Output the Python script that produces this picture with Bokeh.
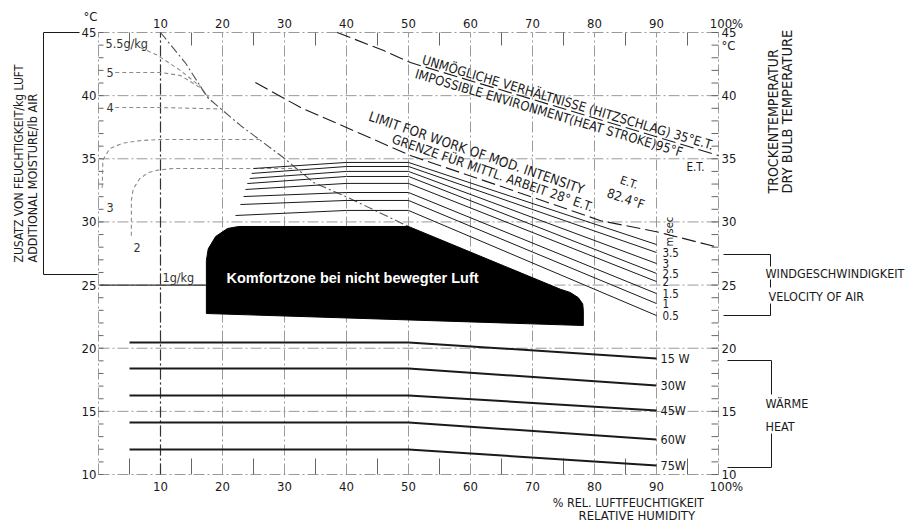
import math
from bokeh.plotting import figure
from bokeh.models import Range1d
from bokeh.embed import file_html
from bokeh.resources import INLINE
from bokeh.core.properties import value

# ---------------- data ----------------
rh_ticks = [10, 20, 30, 40, 50, 60, 70, 80, 90, 100]
rh_tick_labels = ["10", "20", "30", "40", "50", "60", "70", "80", "90", "100%"]
rh_minor = [5, 15, 25, 35, 45, 55, 65, 75, 85, 95]
rh_lines = [0, 10, 20, 30, 40, 50, 60, 70, 80, 90, 100]
temp_ticks = [10, 15, 20, 25, 30, 35, 40, 45]
temp_tick_labels = ["10", "15", "20", "25", "30", "35", "40", "45"]
temp_minor = list(range(10, 46))

# comfort zone outline (rel. humidity %, temperature degC)
comfort_rh = [17.4, 17.4, 17.7, 18.9, 20.8, 22.6, 50.0, 74.5, 76.1, 77.4, 78.1, 78.2, 78.2]
comfort_t = [22.75, 26.95, 27.87, 28.85, 29.48, 29.64, 29.64, 24.67, 24.41, 24.0, 23.5, 23.0, 21.8]

# wind speed lines (bottom to top), m/sec
wind_labels = ["0.5", "1", "1.5", "2", "2.5", "3", "3.5"]
wind_rh_start = [22.1, 22.9, 23.4, 23.7, 24.0, 24.4, 24.7, 25.0]
wind_t_start = [30.51, 31.38, 32.01, 32.57, 33.04, 33.44, 33.84, 34.23]
wind_t_50 = [30.91, 31.70, 32.33, 33.05, 33.60, 34.00, 34.39, 34.71]
wind_t_90 = [22.59, 23.54, 24.33, 25.28, 25.92, 26.71, 27.58, 28.21]

# heat lines
heat_labels = ["15 W", "30W", "45W", "60W", "75W"]
heat_t_flat = [20.46, 18.40, 16.26, 14.12, 11.98]
heat_t_90 = [19.19, 17.05, 15.07, 12.78, 10.72]

# limit lines
imp_rh = [38.5, 46.0, 50.3, 100.0]
imp_t = [45.0, 43.57, 42.62, 35.26]
limit_rh = [25.3, 32.6, 42.3, 50.3, 65.0, 81.0, 90.6, 100.0]
limit_t = [41.04, 39.06, 36.98, 35.26, 32.8, 30.1, 29.16, 27.98]
env_rh = [10.0, 14.0, 17.6, 22.9, 29.8, 34.7, 40.2, 50.0]
env_t = [45.0, 42.6, 39.85, 37.64, 35.1, 33.12, 31.94, 29.64]

# added moisture curves (g/kg)
moist_labels = ["5.5g/kg", "5", "4", "3", "2", "1g/kg"]
moist_55_rh = [6.8, 9.5, 13.2, 16.5, 17.6]
moist_55_t = [43.8, 43.2, 42.0, 40.7, 39.85]
moist_5_rh = [2.7, 10.0, 13.2, 16.5, 18.3]
moist_5_t = [41.83, 41.83, 41.6, 40.6, 39.55]
moist_4_rh = [2.7, 10.0, 15.0, 19.6]
moist_4_t = [39.06, 39.06, 39.0, 38.95]
moist_3_rh = [0.6, 0.7, 1.8, 4.0, 7.0, 10.0, 18.0, 26.0]
moist_3_t = [32.7, 34.9, 35.8, 36.25, 36.45, 36.53, 36.53, 36.53]
moist_2_rh = [5.3, 5.3, 5.6, 6.6, 8.0, 9.5, 12.0, 32.0]
moist_2_t = [28.9, 31.7, 32.6, 33.4, 33.9, 34.1, 34.23, 34.23]
moist_1_rh = [0.3, 17.4]
moist_1_t = [25.0, 25.0]

# ---------------- layout ----------------
W, H = 911, 522
PX_X = 6.2      # pixels per % rel. humidity
PX_Y = 12.629   # pixels per degC
LEFT, TOP = 98, 32


def fx(px):
    return (px - LEFT) / PX_X


def fy(py):
    return 45 - (py - TOP) / PX_Y


FONT = "DejaVu Sans Condensed"
INK = "#1a1a1a"
GRID = "#9a9a9a"
DASHDOT = "11 3 2 3"

p = figure(width=W, height=H, x_range=Range1d(fx(0), fx(W)), y_range=Range1d(fy(H), fy(0)),
           output_backend="svg", toolbar_location=None, min_border=0,
           x_axis_location=None, y_axis_location=None)
p.grid.visible = False
p.outline_line_color = None
p.background_fill_color = "white"
p.border_fill_color = "white"

t_lo, t_hi = temp_ticks[0], temp_ticks[-1]
r_lo, r_hi = rh_lines[0], rh_lines[-1]

# grid + frame (dash-dot)
p.multi_line([[r, r] for r in rh_lines], [[t_lo, t_hi] for _ in rh_lines],
             line_color=GRID, line_width=1, line_dash=DASHDOT)
p.multi_line([[r_lo, r_hi] for _ in temp_ticks], [[t, t] for t in temp_ticks],
             line_color=GRID, line_width=1, line_dash=DASHDOT)
# darker 10 % line
p.line([rh_ticks[0], rh_ticks[0]], [t_lo, t_hi], line_color="#333", line_width=1.2, line_dash=DASHDOT)

# tick marks
TK = "#666"
p.segment(x0=[r_lo] * len(temp_minor), y0=temp_minor, x1=[fx(LEFT + 5)] * len(temp_minor), y1=temp_minor,
          line_color=TK, line_width=1)
p.segment(x0=[r_hi] * len(temp_minor), y0=temp_minor, x1=[fx(718 - 7)] * len(temp_minor), y1=temp_minor,
          line_color=TK, line_width=1)
p.segment(x0=rh_minor, y0=[t_hi] * len(rh_minor), x1=rh_minor, y1=[fy(TOP + 13)] * len(rh_minor),
          line_color=TK, line_width=1)
p.segment(x0=rh_minor, y0=[t_lo] * len(rh_minor), x1=rh_minor, y1=[fy(474 - 16)] * len(rh_minor),
          line_color=TK, line_width=1)


def txt(x, y, text, size="13px", align="center", baseline="middle", color=INK, angle=0.0,
        font=FONT, style="normal", x_offset=0):
    p.text(x=x, y=y, text=text, text_font=value(font), text_font_size=size, text_color=color,
           text_align=align, text_baseline=baseline, angle=angle, text_font_style=style,
           x_offset=x_offset)


# tick labels
lab_off = [0] * (len(rh_ticks) - 1) + [8]
txt(rh_ticks, [fy(23)] * len(rh_ticks), rh_tick_labels, x_offset=lab_off)
txt(rh_ticks, [fy(486)] * len(rh_ticks), rh_tick_labels, x_offset=lab_off)
txt([fx(96)] * len(temp_ticks), temp_ticks, temp_tick_labels, align="right")
txt([fx(721)] * len(temp_ticks), temp_ticks, temp_tick_labels, align="left")
txt([fx(97)], [fy(16)], ["°C"], align="right")
txt([fx(721)], [fy(45)], ["°C"], align="left")

# moisture curves
mc = "#8a8a8a"
for xs, ys in [(moist_55_rh, moist_55_t), (moist_5_rh, moist_5_t), (moist_4_rh, moist_4_t),
               (moist_3_rh, moist_3_t), (moist_2_rh, moist_2_t)]:
    p.line(xs, ys, line_color=mc, line_width=1.1, line_dash="4 3")
p.line(moist_1_rh, moist_1_t, line_color="#333", line_width=1.1)
p.line(env_rh, env_t, line_color="#555", line_width=1.1, line_dash="9 3 2 3")

moist_lx = [fx(105), fx(106), fx(106), fx(106), fx(133), fx(162)]
moist_ly = [fy(43), moist_5_t[0], moist_4_t[0], fy(207), fy(247), fy(277)]
txt(moist_lx, moist_ly, moist_labels, size="12.5px", align="left", color="#333")

# comfort zone
p.patch(comfort_rh, comfort_t, fill_color="black", line_color="black")
txt([fx(226)], [fy(277)], ["Komfortzone bei nicht bewegter Luft"], size="14.5px", align="left",
    color="white", font="Liberation Sans", style="bold")

# wind lines
wx = [[s, 40, 50, 90] for s in wind_rh_start]
wy = [[a, b, b, c] for a, b, c in zip(wind_t_start, wind_t_50, wind_t_90)]
p.multi_line(wx, wy, line_color=INK, line_width=1)
txt([fx(662)] * len(wind_labels), wind_t_90[:len(wind_labels)], wind_labels, size="11.5px", align="left")
txt([fx(669)], [fy(246)], ["m/sec"], size="11px", align="left", angle=math.pi / 2)

# heat lines
hx = [[5, 50, 90] for _ in heat_t_flat]
hy = [[a, a, b] for a, b in zip(heat_t_flat, heat_t_90)]
p.multi_line(hx, hy, line_color=INK, line_width=2)
txt([fx(660)] * len(heat_labels), heat_t_90, heat_labels, size="12.5px", align="left")

# limit lines
p.line(imp_rh, imp_t, line_color=INK, line_width=1.1, line_dash="14 5")
p.line(limit_rh, limit_t, line_color=INK, line_width=1.1, line_dash="14 5")

a1 = -math.radians(16.5)
a2 = -math.radians(19.0)
txt([fx(422)], [fy(59)], ["UNMÖGLICHE  VERHÄLTNISSE (HITZSCHLAG) 35°E.T."], align="left", angle=a1)
txt([fx(415)], [fy(73)], ["IMPOSSIBLE ENVIRONMENT(HEAT STROKE)95°F"], align="left", angle=a1)
txt([fx(686)], [fy(166)], ["E.T."], size="11.5px", align="left")
txt([fx(369)], [fy(115)], ["LIMIT  FOR  WORK  OF  MOD.   INTENSITY"], size="13.5px", align="left", angle=a2)
txt([fx(607)], [fy(192)], ["82.4°F"], align="left", angle=a2)
txt([fx(620)], [fy(179)], ["E.T."], size="11.5px", align="left", angle=a2)
txt([fx(392)], [fy(138)], ["GRENZE FÜR MITTL. ARBEIT  28° E.T."], align="left", angle=a2)

# outer texts
txt([fx(18)], [fy(262)], ["ZUSATZ VON FEUCHTIGKEIT/kg LUFT"], size="12px", align="left", angle=math.pi / 2)
txt([fx(32)], [fy(262)], ["ADDITIONAL MOISTURE/lb AIR"], size="12.5px", align="left", angle=math.pi / 2)
txt([fx(772)], [fy(193)], ["TROCKENTEMPERATUR"], size="14px", align="left", angle=math.pi / 2)
txt([fx(786)], [fy(193)], ["DRY  BULB  TEMPERATURE"], size="14.5px", align="left", angle=math.pi / 2)
txt([fx(765)], [fy(273)], ["WINDGESCHWINDIGKEIT"], size="12.5px", align="left")
txt([fx(768)], [fy(296)], ["VELOCITY OF AIR"], size="12.5px", align="left")
txt([fx(765)], [fy(403)], ["WÄRME"], size="12.5px", align="left")
txt([fx(765)], [fy(426)], ["HEAT"], size="12.5px", align="left")
txt([fx(707)], [fy(502)], ["%  REL. LUFTFEUCHTIGKEIT"], size="12.5px", align="right")
txt([fx(578)], [fy(515)], ["RELATIVE  HUMIDITY"], size="13px", align="left")

# brackets
BK = dict(line_color=INK, line_width=1)
p.line([fx(43), fx(43)], [t_hi, fy(274)], **BK)
p.line([fx(43), fx(79)], [t_hi, t_hi], **BK)
p.line([fx(43), fx(97)], [fy(274), fy(274)], **BK)
p.multi_line([[fx(723), fx(770), fx(770)], [fx(770), fx(770)], [fx(770), fx(770), fx(723)]],
             [[fy(254), fy(254), fy(266)], [fy(279), fy(287)], [fy(303), fy(315), fy(315)]], **BK)
p.multi_line([[fx(727), fx(771), fx(771)], [fx(771), fx(771), fx(727)]],
             [[fy(360), fy(360), fy(394)], [fy(433), fy(467), fy(467)]], **BK)

open("out.html", "w").write(file_html(p, INLINE))
